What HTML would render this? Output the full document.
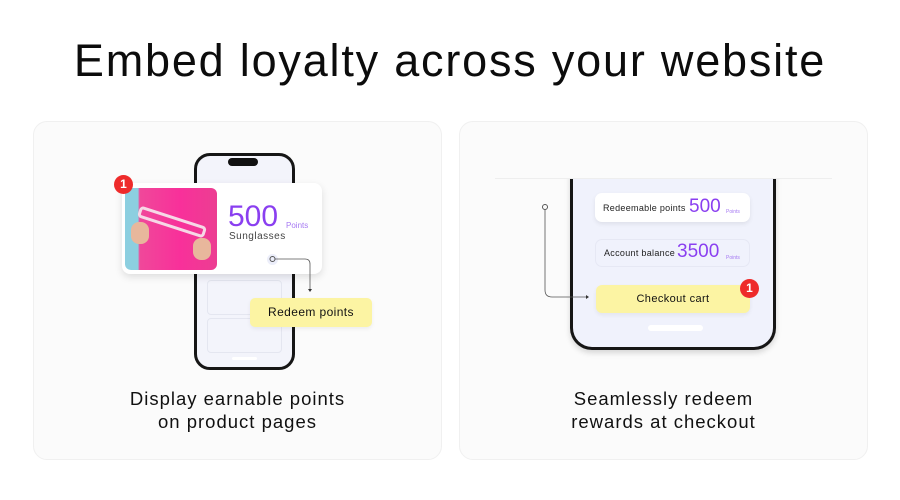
<!DOCTYPE html>
<html><head><style>
*{margin:0;padding:0;box-sizing:border-box}
body{width:900px;height:500px;background:#fff;font-family:"Liberation Sans",sans-serif;position:relative;overflow:hidden;color:#111}
.a{position:absolute}
h1{position:absolute;left:0;width:900px;top:35px;text-align:center;font-size:45px;font-weight:normal;color:#0c0c0c;letter-spacing:1.8px}
.card{position:absolute;top:121px;height:339px;width:409px;background:#fbfbfb;border:1px solid #f0f0f0;border-radius:14px}
.cap{position:absolute;text-align:center;font-size:18.5px;line-height:23px;color:#111;width:409px;letter-spacing:1px}
.badge{position:absolute;width:19px;height:19px;border-radius:50%;background:#ee2b2b;color:#fff;font-size:12px;font-weight:bold;text-align:center;line-height:19px}
.pill{position:absolute;border-radius:7px;background:#fff;box-shadow:0 2px 5px rgba(0,0,0,.08)}
.pur{color:#8a3ff0}
</style></head><body>
<h1>Embed loyalty across your website</h1>
<div class="card" style="left:33px"></div>
<div class="card" style="left:459px"></div>

<!-- left phone -->
<div class="a" style="left:194px;top:153px;width:101px;height:217px;border:3px solid #161616;border-radius:16px;background:#f3f4fb"></div>
<div class="a" style="left:228px;top:158px;width:30px;height:8px;border-radius:4px;background:#111"></div>
<div class="a" style="left:207px;top:280px;width:75px;height:35px;border:1px solid #e4e6f0;border-radius:4px"></div>
<div class="a" style="left:207px;top:318px;width:75px;height:35px;border:1px solid #e4e6f0;border-radius:4px"></div>
<div class="a" style="left:232px;top:357px;width:25px;height:3px;border-radius:2px;background:#fff"></div>
<div class="a" style="left:122px;top:183px;width:200px;height:91px;background:#fff;border-radius:8px;box-shadow:0 3px 8px rgba(0,0,0,.12)"></div>
<div class="a" style="left:125px;top:188px;width:92px;height:82px;border-radius:6px;background:linear-gradient(90deg,#8ccfe0 0,#8ccfe0 14%,#f0489a 16%,#f8309a 60%,#ec3e92 100%);overflow:hidden">
  <div class="a" style="left:12px;top:28px;width:70px;height:12px;border:3px solid #f6d8e6;border-radius:4px;transform:rotate(18deg)"></div>
  <div class="a" style="left:6px;top:34px;width:18px;height:22px;border-radius:8px;background:#e8b79c"></div>
  <div class="a" style="left:68px;top:50px;width:18px;height:22px;border-radius:8px;background:#e8b79c"></div>
</div>
<div class="badge" style="left:114px;top:175px">1</div>
<div class="a pur" style="left:228px;top:200px;font-size:30px">500</div>
<div class="a pur" style="left:286px;top:221px;font-size:8px;color:#a67af2">Points</div>
<div class="a" style="left:229px;top:231px;font-size:10px;color:#444;letter-spacing:0.5px">Sunglasses</div>
<div class="a" style="left:267px;top:254px;width:11px;height:11px;border-radius:50%;background:#eceefa"></div>
<div class="a" style="left:250px;top:298px;width:122px;height:29px;background:#fcf4a3;border-radius:5px;font-size:12px;text-align:center;line-height:29px;box-shadow:0 2px 4px rgba(0,0,0,.06);letter-spacing:0.4px">Redeem points</div>

<!-- right phone -->
<div class="a" style="left:570px;top:160px;width:206px;height:190px;border:3px solid #161616;border-top:none;border-radius:0 0 22px 22px;background:#f0f2fc;box-shadow:0 3px 6px rgba(0,0,0,.15)"></div>
<div class="a" style="left:560px;top:150px;width:230px;height:28px;background:#fbfbfb"></div>
<div class="pill" style="left:595px;top:193px;width:155px;height:29px"></div>
<div class="a" style="left:603px;top:203px;font-size:9px;color:#222;letter-spacing:0.3px">Redeemable points</div>
<div class="a pur" style="left:689px;top:196px;font-size:19px">500</div>
<div class="a" style="left:726px;top:209px;font-size:5px;color:#a67af2">Points</div>
<div class="a" style="left:595px;top:239px;width:155px;height:28px;border:1px solid #e6e8f4;border-radius:7px"></div>
<div class="a" style="left:604px;top:248px;font-size:9px;color:#222;letter-spacing:0.3px">Account balance</div>
<div class="a pur" style="left:677px;top:241px;font-size:19px">3500</div>
<div class="a" style="left:726px;top:255px;font-size:5px;color:#a67af2">Points</div>
<div class="a" style="left:596px;top:285px;width:154px;height:28px;background:#fcf4a3;border-radius:6px;font-size:11px;text-align:center;line-height:28px;box-shadow:0 2px 4px rgba(0,0,0,.06);letter-spacing:0.4px">Checkout cart</div>
<div class="badge" style="left:740px;top:279px">1</div>
<div class="a" style="left:648px;top:325px;width:55px;height:6px;border-radius:3px;background:#fff"></div>

<svg class="a" style="left:0;top:0" width="900" height="500">
<circle cx="272.5" cy="259" r="2.5" fill="none" stroke="#555" stroke-width="1"/>
<path d="M275 259 H305 Q310 259 310 264 V290" fill="none" stroke="#555" stroke-width="0.8"/>
<path d="M308 289 L310 292 L312 289Z" fill="#333"/>
<line x1="495" y1="178.5" x2="832" y2="178.5" stroke="#eee" stroke-width="1"/>
<circle cx="545" cy="207" r="2.5" fill="none" stroke="#555" stroke-width="1"/>
<path d="M545 210 V290 Q545 297 552 297 H587" fill="none" stroke="#555" stroke-width="0.8"/>
<path d="M586 295 L589 297 L586 299Z" fill="#333"/>
</svg>

<div class="cap" style="left:33px;top:387px">Display earnable points<br>on product pages</div>
<div class="cap" style="left:459px;top:387px">Seamlessly redeem<br>rewards at checkout</div>
</body></html>
